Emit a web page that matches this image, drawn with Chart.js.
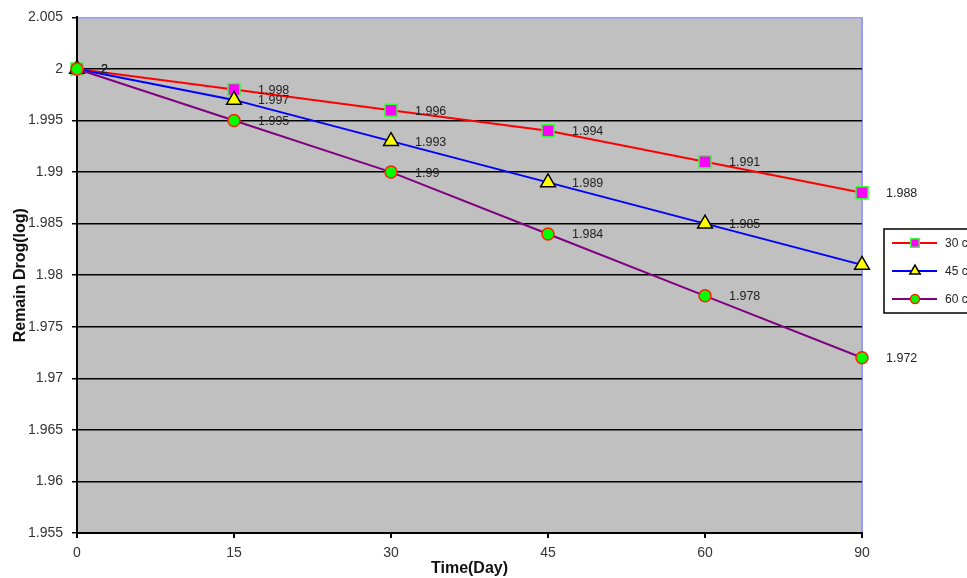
<!DOCTYPE html>
<html>
<head>
<meta charset="utf-8">
<script src="https://cdn.jsdelivr.net/npm/chart.js@4"></script>
<style>
  body { margin: 0; background: #fff; }
  canvas { display: block; }
</style>
</head>
<body>
<canvas id="plot" width="967" height="578"></canvas>
<script>
// data
const days = ['0', '15', '30', '45', '60', '90'];
const yTicks = [1.955, 1.96, 1.965, 1.97, 1.975, 1.98, 1.985, 1.99, 1.995, 2, 2.005];
const names = ['30 c', '45 c', '60 c'];
const remain30 = [2, 1.998, 1.996, 1.994, 1.991, 1.988];
const remain45 = [2, 1.997, 1.993, 1.989, 1.985, 1.981];
const remain60 = [2, 1.995, 1.99, 1.984, 1.978, 1.972];

const FONT = 'Liberation Sans, Arial, sans-serif';
const lavender = '#9999ff';

// grey plotting area
const plotBg = {
    id: 'plotBg',
    beforeDraw(chart) {
        const a = chart.chartArea, c = chart.ctx;
        c.save();
        c.fillStyle = '#c0c0c0';
        c.fillRect(a.left, a.top, a.right - a.left, a.bottom - a.top);
        c.restore();
    }
};

// value labels to the right of every point
const valueLabels = {
    id: 'valueLabels',
    afterDatasetsDraw(chart) {
        const c = chart.ctx;
        c.save();
        c.font = '12.5px ' + FONT;
        c.fillStyle = '#222';
        c.textAlign = 'left';
        c.textBaseline = 'middle';
        chart.data.datasets.forEach((ds, i) => {
            chart.getDatasetMeta(i).data.forEach((pt, j) => {
                c.fillText(String(ds.data[j]), pt.x + 24, pt.y + 1);
            });
        });
        c.restore();
    }
};

// boxed legend on the right (runs off the edge like the original)
const boxLegend = {
    id: 'boxLegend',
    afterDraw(chart) {
        const c = chart.ctx;
        const x0 = 884, y0 = 229;
        c.save();
        c.fillStyle = '#fff';
        c.strokeStyle = '#000';
        c.lineWidth = 1.5;
        c.fillRect(x0, y0, 200, 84);
        c.strokeRect(x0, y0, 200, 84);
        chart.data.datasets.forEach((ds, i) => {
            const y = y0 + 14 + i * 28;
            c.strokeStyle = ds.borderColor;
            c.lineWidth = 2;
            c.beginPath();
            c.moveTo(892, y);
            c.lineTo(937, y);
            c.stroke();
            c.fillStyle = ds.pointBackgroundColor;
            c.strokeStyle = ds.pointBorderColor;
            c.lineWidth = 1.5;
            Chart.helpers.drawPoint(c, {
                pointStyle: ds.pointStyle,
                radius: ds.pointStyle === 'circle' ? 4.5 : 6,
                rotation: 0,
                borderWidth: 1.5
            }, 915, y);
            c.fillStyle = '#222';
            c.font = '12px ' + FONT;
            c.textAlign = 'left';
            c.textBaseline = 'middle';
            c.fillText(ds.label, 945, y + 1);
        });
        c.restore();
    }
};

const ctx = document.getElementById('plot');

var chart = new Chart(ctx, {
    type: 'line',
    data: {
        labels: days,
        datasets: [{
            label: names[0],
            data: remain30,
            borderColor: '#ff0000',
            borderWidth: 2,
            pointStyle: 'rect',
            pointRadius: 8.5,
            pointHoverRadius: 8.5,
            pointBackgroundColor: '#ff00ff',
            pointBorderColor: '#33ff33',
            pointBorderWidth: 1.5,
            clip: false,
            order: 3
        }, {
            label: names[1],
            data: remain45,
            borderColor: '#0000ff',
            borderWidth: 2,
            pointStyle: 'triangle',
            pointRadius: 8.5,
            pointHoverRadius: 8.5,
            pointBackgroundColor: '#ffff00',
            pointBorderColor: '#000000',
            pointBorderWidth: 1.5,
            clip: false,
            order: 2
        }, {
            label: names[2],
            data: remain60,
            borderColor: '#800080',
            borderWidth: 2,
            pointStyle: 'circle',
            pointRadius: 6,
            pointHoverRadius: 6,
            pointBackgroundColor: '#00ff00',
            pointBorderColor: '#ff2000',
            pointBorderWidth: 1.5,
            clip: false,
            order: 1
        }]
    },
    options: {
        responsive: false,
        animation: false,
        devicePixelRatio: 1,
        layout: { padding: { left: 0, right: 105, top: 16, bottom: 0 } },
        plugins: {
            legend: { display: false },
            tooltip: { enabled: false }
        },
        scales: {
            x: {
                type: 'category',
                offset: false,
                afterFit(s) { s.height = 45; },
                border: { color: '#000', width: 2 },
                grid: {
                    drawOnChartArea: true,
                    color: (c) => c.index === days.length - 1 ? lavender : 'rgba(0,0,0,0)',
                    lineWidth: 2,
                    tickColor: '#000',
                    tickLength: 5
                },
                ticks: {
                    color: '#333',
                    font: { family: FONT, size: 14 },
                    padding: 7,
                    maxRotation: 0
                },
                title: {
                    display: true,
                    text: 'Time(Day)',
                    color: '#111',
                    font: { family: FONT, size: 16, weight: 'bold' },
                    padding: { top: 0, bottom: 0 }
                }
            },
            y: {
                min: 1.955,
                max: 2.005,
                afterFit(s) { s.width = 77; },
                afterBuildTicks(s) { s.ticks = yTicks.map(v => ({ value: v })); },
                border: { color: '#000', width: 2 },
                grid: {
                    color: (c) => c.tick && Math.abs(c.tick.value - 2.005) < 1e-9 ? lavender : '#000',
                    lineWidth: 1.5,
                    tickColor: '#000',
                    tickLength: 5
                },
                ticks: {
                    color: '#333',
                    font: { family: FONT, size: 14 },
                    padding: 9,
                    callback: (v) => String(+Number(v).toFixed(3))
                },
                title: {
                    display: true,
                    text: 'Remain Drog(log)',
                    color: '#111',
                    font: { family: FONT, size: 16, weight: 'bold' },
                    padding: { top: 11, bottom: 0 }
                }
            }
        }
    },
    plugins: [plotBg, valueLabels, boxLegend]
});
</script>
</body>
</html>
